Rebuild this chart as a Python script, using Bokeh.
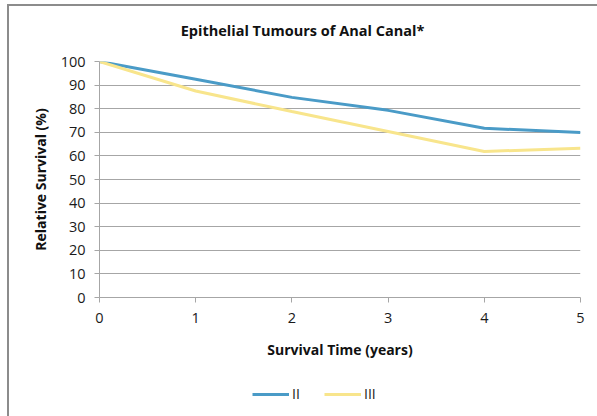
from bokeh.plotting import figure
from bokeh.layouts import column
from bokeh.models import Range1d, FixedTicker, Legend, LegendItem, Label
from bokeh.embed import file_html
from bokeh.resources import INLINE

# Relative survival (%) by stage, years after diagnosis
years = [0, 1, 2, 3, 4, 5]
stage_ii = [100, 92.5, 84.8, 79.3, 71.7, 69.9]
stage_iii = [100, 87.5, 78.8, 70.3, 61.9, 63.2]
y_ticks = [0, 10, 20, 30, 40, 50, 60, 70, 80, 90, 100]
series_names = ["II", "III"]
chart_title = "Epithelial Tumours of Anal Canal*"

FONT = "Open Sans"
GRID = "#a6a6a6"
BLUE = "#4a9bc7"
YELLOW = "#f8e58c"
TEXT = "#1a1a1a"


def strip(height, y_range):
    """A bare figure used for the title and legend rows (no axes, no grid)."""
    f = figure(width=588, height=height, output_backend="svg", toolbar_location=None,
               x_range=Range1d(0, 481), y_range=y_range,
               x_axis_location=None, y_axis_location=None,
               min_border=0, min_border_left=0, min_border_right=0,
               min_border_top=0, min_border_bottom=0)
    f.grid.visible = False
    f.outline_line_color = None
    f.border_fill_color = "white"
    return f


# title row
tt = strip(36, Range1d(0, 36))
tt.add_layout(Label(x=203, y=12, text=chart_title, text_font=FONT,
                    text_font_size="14.5px", text_font_style="bold",
                    text_align="center", text_baseline="middle", text_color="#111111"))

# main chart
p = figure(width=588, height=334, output_backend="svg", toolbar_location=None,
           x_range=Range1d(0, 5), y_range=Range1d(0, 100),
           min_border_left=90, min_border_right=17,
           min_border_top=19, min_border_bottom=79)
p.outline_line_color = None
p.background_fill_color = "white"
p.border_fill_color = "white"

p.xgrid.grid_line_color = None
p.ygrid.ticker = FixedTicker(ticks=y_ticks)
p.ygrid.grid_line_color = GRID
p.ygrid.grid_line_width = 1

p.xaxis.ticker = FixedTicker(ticks=years)
p.yaxis.ticker = FixedTicker(ticks=y_ticks)
for ax in (p.xaxis[0], p.yaxis[0]):
    ax.axis_line_color = GRID
    ax.major_tick_line_color = GRID
    ax.major_tick_in = 0
    ax.major_tick_out = 5
    ax.minor_tick_line_color = None
    ax.major_label_text_font = FONT
    ax.major_label_text_font_size = "14.5px"
    ax.major_label_text_color = TEXT
    ax.axis_label_text_font = FONT
    ax.axis_label_text_font_size = "14px"
    ax.axis_label_text_font_style = "bold"
    ax.axis_label_text_color = "#111111"
p.xaxis.major_label_standoff = 10
p.yaxis.major_label_standoff = 9
p.xaxis.axis_label = "Survival Time (years)"
p.yaxis.axis_label = "Relative Survival (%)"
p.xaxis.axis_label_standoff = 14
p.yaxis.axis_label_standoff = 8

p.line(years, stage_ii, line_color=BLUE, line_width=3)
p.line(years, stage_iii, line_color=YELLOW, line_width=3)

# legend row; its series lie outside the visible range, only the swatches show
lg = strip(40, Range1d(1000, 1001))
k2 = lg.line(years, stage_ii, line_color=BLUE, line_width=3)
k3 = lg.line(years, stage_iii, line_color=YELLOW, line_width=3)
legend = Legend(items=[LegendItem(label=series_names[0], renderers=[k2]),
                       LegendItem(label=series_names[1], renderers=[k3])],
                orientation="horizontal", location=(153, 13),
                glyph_width=37, glyph_height=10, label_standoff=3, spacing=12,
                label_text_font=FONT, label_text_font_size="14px",
                label_text_color=TEXT,
                border_line_color=None, background_fill_alpha=0,
                padding=0, margin=0)
lg.add_layout(legend, "center")

page = column(tt, p, lg, spacing=0)
page.margin = (4, 0, 0, 7)
page.styles = {"border-left": "2px solid #8c8c8c", "border-top": "2px solid #8c8c8c"}

open("out.html", "w").write(file_html(page, INLINE))
